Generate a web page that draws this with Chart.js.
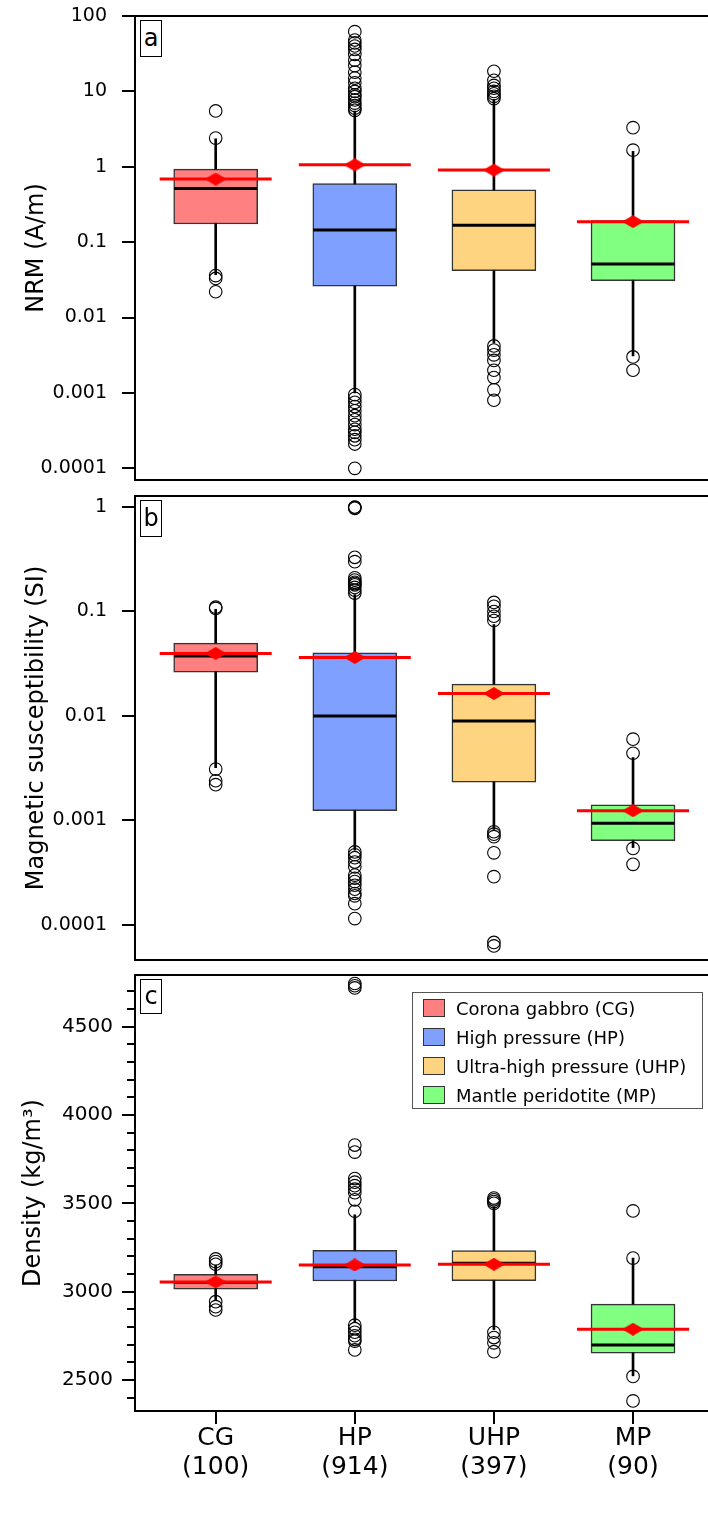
<!DOCTYPE html>
<html>
<head>
<meta charset="utf-8">
<script src="https://cdn.jsdelivr.net/npm/chart.js@4"></script>
<style>
  body { margin: 0; width: 708px; height: 1516px; overflow: hidden; background: #fff; position: relative; font-family: "DejaVu Sans", sans-serif; }
  canvas { position: absolute; left: 0; }
  .tag { position: absolute; left: 140px; width: 22px; border: 1px solid #000; font-size: 24px; text-align: center; background: #fff; box-sizing: border-box; }
  #legend { position: absolute; left: 412px; top: 992px; width: 291px; height: 117px; border: 1px solid #555; box-sizing: border-box; background: #fff; font-size: 18px; }
  #legend .row { position: absolute; left: 0; height: 29px; line-height: 29px; white-space: nowrap; }
  #legend .sw { position: absolute; left: 10px; top: 5px; width: 22px; height: 18px; border: 1px solid #333; box-sizing: border-box; }
  #legend .lb { position: absolute; left: 43px; top: 0; }
</style>
</head>
<body>
<canvas id="nrm" width="740" height="490" style="top:0"></canvas>
<canvas id="ms" width="740" height="490" style="top:480px"></canvas>
<canvas id="dens" width="740" height="556" style="top:960px"></canvas>
<div class="tag" style="top:20px;height:37px;line-height:35px">a</div>
<div class="tag" style="top:500px;height:37px;line-height:35px">b</div>
<div class="tag" style="top:979px;height:35px;line-height:33px">c</div>
<div id="legend"></div>
<script>
const categories = ['CG', 'HP', 'UHP', 'MP'];
const counts = [100, 914, 397, 90];
const groupNames = ['Corona gabbro (CG)', 'High pressure (HP)', 'Ultra-high pressure (UHP)', 'Mantle peridotite (MP)'];
const boxColors = ['#ff8080', '#80a0ff', '#ffd480', '#80ff80'];

// panel a: NRM (A/m)
const nrmLow    = [0.037, 0.001, 0.0046, 0.0031];
const nrmQ1     = [0.174, 0.026, 0.042, 0.0308];
const nrmMedian = [0.516, 0.145, 0.167, 0.0513];
const nrmQ3     = [0.93, 0.60, 0.496, 0.194];
const nrmHigh   = [2.35, 5.5, 7.8, 1.6];
const nrmMean   = [0.687, 1.06, 0.904, 0.187];
const nrmOutliers = [
  [5.5, 2.4, 0.036, 0.033, 0.022],
  [62, 48, 44, 40, 36, 31, 26, 22, 18, 15, 13, 11, 10, 9, 8.5, 7.7, 7, 6.5, 6, 5.6,
   0.00095, 0.00085, 0.00075, 0.00066, 0.00058, 0.0005, 0.00044, 0.00038, 0.00033, 0.0003, 0.00027, 0.00024, 0.00021, 0.0001],
  [18.5, 14, 12, 11, 10, 9.3, 8.6, 8, 0.0042, 0.0037, 0.0032, 0.0027, 0.002, 0.0016, 0.0011, 0.0008],
  [3.3, 1.66, 0.003, 0.002]
];
const nrmTicks = [100, 10, 1, 0.1, 0.01, 0.001, 0.0001];

// panel b: magnetic susceptibility (SI)
const msLow    = [0.0032, 0.00052, 0.00082, 0.00055];
const msQ1     = [0.0263, 0.00124, 0.00233, 0.00064];
const msMedian = [0.0374, 0.01, 0.00894, 0.00094];
const msQ3     = [0.0498, 0.0402, 0.0202, 0.00141];
const msHigh   = [0.105, 0.145, 0.075, 0.004];
const msMean   = [0.0397, 0.0363, 0.0164, 0.00124];
const msOutliers = [
  [0.11, 0.107, 0.0031, 0.0024, 0.0022],
  [1.0, 0.99, 0.97, 0.33, 0.3, 0.21, 0.2, 0.19, 0.185, 0.18, 0.17, 0.16, 0.15,
   0.0005, 0.00047, 0.00044, 0.0004, 0.00036, 0.0003, 0.00028, 0.00026, 0.00024, 0.00022, 0.0002, 0.00019, 0.00016, 0.000115],
  [0.122, 0.112, 0.1, 0.09, 0.082, 0.00078, 0.00074, 0.0007, 0.00049, 0.00029, 0.000068, 0.000063],
  [0.006, 0.0044, 0.00054, 0.00038]
];
const msTicks = [1, 0.1, 0.01, 0.001, 0.0001];

// panel c: density (kg/m3)
const densLow    = [2953, 2830, 2785, 2523];
const densQ1     = [3014, 3060, 3062, 2651];
const densMedian = [3052, 3141, 3160, 2698];
const densQ3     = [3098, 3234, 3232, 2929];
const densHigh   = [3151, 3435, 3480, 3190];
const densMean   = [3055, 3151, 3155, 2787];
const densOutliers = [
  [3185, 3170, 3155, 2943, 2915, 2896],
  [4745, 4732, 4720, 3830, 3790, 3640, 3620, 3600, 3580, 3560, 3520, 3455,
   2810, 2790, 2770, 2750, 2730, 2720, 2670],
  [3530, 3520, 3510, 3500, 2770, 2740, 2710, 2660],
  [3457, 3190, 2520, 2381]
];
const densTicks = [2500, 3000, 3500, 4000, 4500];

const FONT = '"DejaVu Sans", sans-serif';
const X_MIN = -0.58, X_MAX = 3.733;

const framePlugin = {
  id: 'frame',
  afterDatasetsDraw(chart) {
    const a = chart.chartArea, ctx = chart.ctx;
    ctx.save();
    ctx.strokeStyle = '#000';
    ctx.lineWidth = 2;
    ctx.strokeRect(a.left, a.top, a.right - a.left, a.bottom - a.top);
    ctx.restore();
  }
};

const minorTickPlugin = {
  id: 'minorTicks',
  afterDraw(chart, args, opts) {
    if (!opts || !opts.values) return;
    const y = chart.scales.y, ctx = chart.ctx;
    ctx.save();
    ctx.strokeStyle = '#000';
    ctx.lineWidth = 2;
    opts.values.forEach(v => {
      const py = Math.round(y.getPixelForValue(v));
      ctx.beginPath();
      ctx.moveTo(y.right - 8, py);
      ctx.lineTo(y.right, py);
      ctx.stroke();
    });
    ctx.restore();
  }
};

function diamond(w, h) {
  const c = document.createElement('canvas');
  c.width = w; c.height = h;
  const g = c.getContext('2d');
  g.fillStyle = '#ff0000';
  g.beginPath();
  g.moveTo(w / 2, 0); g.lineTo(w, h / 2); g.lineTo(w / 2, h); g.lineTo(0, h / 2);
  g.closePath();
  g.fill();
  return c;
}
const meanMark = diamond(22, 13);

function makePanel(id, p) {
  const pts = arr => arr.map((v, i) => ({ x: i, y: v }));
  const outlierPts = [];
  p.outliers.forEach((list, i) => list.forEach(v => outlierPts.push({ x: i, y: v })));

  const yScale = {
    type: p.log ? 'logarithmic' : 'linear',
    min: p.min, max: p.max,
    afterBuildTicks: s => { s.ticks = p.ticks.map(v => ({ value: v })); },
    afterFit: s => { s.width = 135; s.paddingTop = 0; s.paddingBottom = 0; },
    grid: { drawOnChartArea: false, drawTicks: true, tickLength: 13, lineWidth: 2, color: '#000' },
    border: { display: false },
    ticks: { color: '#000', padding: p.tickPad, font: { family: FONT, size: p.tickSize }, callback: v => String(v) },
    title: { display: true, text: p.title, color: '#000', font: { family: FONT, size: 24 }, padding: { top: p.titlePad, bottom: 0 } }
  };

  const xScale = {
    type: 'linear', min: X_MIN, max: X_MAX, offset: false,
    display: !!p.showX,
    afterBuildTicks: s => { s.ticks = categories.map((c, i) => ({ value: i })); },
    afterFit: s => {
      if (p.showX) s.height = 105;
      s.paddingLeft = 0; s.paddingRight = 0;
    },
    grid: { offset: false, drawOnChartArea: false, drawTicks: true, tickLength: 13, lineWidth: 2, color: '#000' },
    border: { display: false },
    ticks: {
      color: '#000', padding: 0, maxRotation: 0, autoSkip: false,
      font: { family: FONT, size: 25, lineHeight: 1.15 },
      callback: v => [categories[v], '(' + counts[v] + ')']
    }
  };

  return new Chart(document.getElementById(id), {
    type: 'bar',
    data: {
      datasets: [
        { type: 'bar', order: 6, grouped: false, barThickness: 2, backgroundColor: '#000', borderWidth: 0,
          data: categories.map((c, i) => ({ x: i, y: [p.low[i], p.high[i]] })) },
        { type: 'bar', order: 5, grouped: false, barThickness: 84, backgroundColor: boxColors,
          borderColor: 'rgba(30,30,30,0.9)', borderWidth: 1.5, borderSkipped: false,
          data: categories.map((c, i) => ({ x: i, y: [p.q1[i], p.q3[i]] })) },
        { type: 'line', order: 4, showLine: false, data: pts(p.median),
          pointStyle: 'line', pointRadius: 41.5, pointBorderWidth: 3, pointBorderColor: '#000' },
        { type: 'line', order: 3, showLine: false, data: pts(p.mean),
          pointStyle: 'line', pointRadius: 56, pointBorderWidth: 3, pointBorderColor: '#ff0000' },
        { type: 'line', order: 2, showLine: false, data: pts(p.mean),
          pointStyle: meanMark, pointRadius: 7 },
        { type: 'line', order: 1, showLine: false, data: outlierPts,
          pointStyle: 'circle', pointRadius: 6.3, pointBorderWidth: 1.1,
          pointBorderColor: '#000', pointBackgroundColor: 'rgba(0,0,0,0)' }
      ]
    },
    options: {
      responsive: false,
      animation: false,
      layout: { autoPadding: false, padding: p.padding },
      plugins: { legend: { display: false }, tooltip: { enabled: false }, minorTicks: { values: p.minor } },
      scales: { x: xScale, y: yScale }
    },
    plugins: [framePlugin, minorTickPlugin]
  });
}

makePanel('nrm', {
  log: true, min: 7.15e-5, max: 100, ticks: nrmTicks, title: 'NRM (A/m)', titlePad: 22, tickPad: 15, tickSize: 19,
  low: nrmLow, q1: nrmQ1, median: nrmMedian, q3: nrmQ3, high: nrmHigh, mean: nrmMean, outliers: nrmOutliers,
  padding: { top: 16, bottom: 10, left: 0, right: 5 }
});

makePanel('ms', {
  log: true, min: 4.62e-5, max: 1.274, ticks: msTicks, title: 'Magnetic susceptibility (SI)', titlePad: 22, tickPad: 15, tickSize: 19,
  low: msLow, q1: msQ1, median: msMedian, q3: msQ3, high: msHigh, mean: msMean, outliers: msOutliers,
  padding: { top: 16, bottom: 10, left: 0, right: 5 }
});

const densMinor = [];
for (let v = 2400; v <= 4700; v += 100) if (v % 500 !== 0) densMinor.push(v);

makePanel('dens', {
  log: false, min: 2324, max: 4793, ticks: densTicks, title: 'Density (kg/m³)', titlePad: 19, tickPad: 9, tickSize: 20, showX: true,
  low: densLow, q1: densQ1, median: densMedian, q3: densQ3, high: densHigh, mean: densMean, outliers: densOutliers,
  minor: densMinor,
  padding: { top: 15, bottom: 0, left: 0, right: 5 }
});

const legend = document.getElementById('legend');
groupNames.forEach((name, i) => {
  const row = document.createElement('div');
  row.className = 'row';
  row.style.top = (1 + i * 29) + 'px';
  row.innerHTML = '<div class="sw" style="background:' + boxColors[i] + '"></div><div class="lb">' + name + '</div>';
  legend.appendChild(row);
});
</script>
</body>
</html>
